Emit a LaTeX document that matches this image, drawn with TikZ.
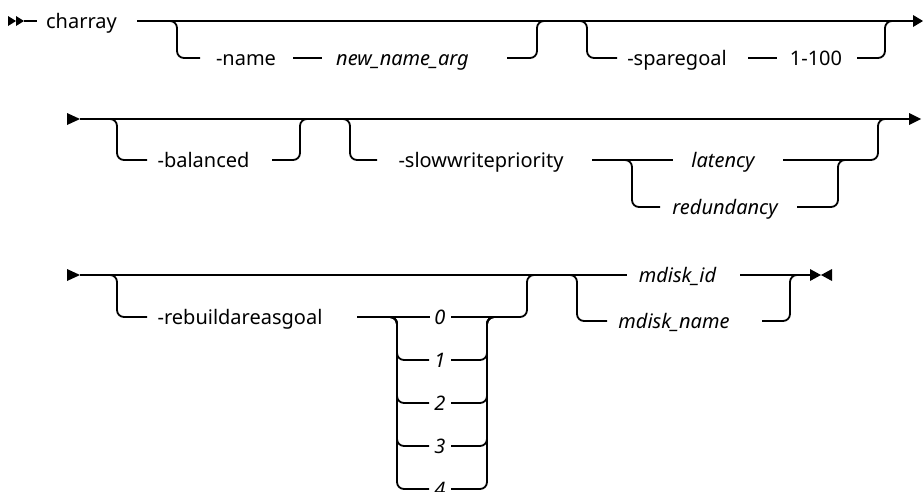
\documentclass[tikz,border=0pt]{standalone}
\usepackage{fontspec}
\setmainfont{Noto Sans}
\begin{document}
\begin{tikzpicture}[x=1pt,y=-1pt,
  rail/.style={line width=1.8pt, rounded corners=7pt},
  kw/.style={inner sep=0pt, anchor=base, font=\fontsize{20}{24}\selectfont},
  arg/.style={kw, font=\fontsize{20}{24}\selectfont\itshape},
  tiptri/.style={fill=black, draw=none}]
\useasboundingbox (0,0) rectangle (923,491);
\clip (0,0) rectangle (923,491);
% ---------- Row 1 ----------
\fill[tiptri] (8,16) -- (16,21) -- (8,26) -- cycle;
\fill[tiptri] (16,16) -- (24,21) -- (16,26) -- cycle;
\draw[rail] (24,21) -- (37,21);
\node[kw] (charray) at (81.5,28) {charray};
\draw[rail] (137,21) -- (913,21);
\fill[tiptri] (913,15) -- (923,21) -- (913,27) -- cycle;
\draw[rail] (170,21) -- (177,21) -- (177,58) -- (200,58);
\node[kw] (name) at (246,65) {-name};
\draw[rail] (293,58) -- (322,58);
\node[arg] (nna) at (402.5,65) {new\_name\_arg};
\draw[rail] (507,58) -- (537,58) -- (537,21) -- (544,21);
\draw[rail] (580,21) -- (587,21) -- (587,58) -- (617,58);
\node[kw] (spare) at (677,65) {-sparegoal};
\draw[rail] (748,58) -- (777,58);
\node[kw] (range) at (816,65) {1-100};
\draw[rail] (857,58) -- (885,58) -- (885,21) -- (892,21);
% ---------- Row 2 ----------
\fill[tiptri] (67,113) -- (80,119) -- (67,125) -- cycle;
\draw[rail] (80,119) -- (909,119);
\fill[tiptri] (909,113) -- (921,119) -- (909,125) -- cycle;
\draw[rail] (110,119) -- (117,119) -- (117,160) -- (147,160);
\node[kw] (bal) at (203.5,167) {-balanced};
\draw[rail] (272,160) -- (300,160) -- (300,119) -- (307,119);
\draw[rail] (343,119) -- (350,119) -- (350,160) -- (377,160);
\node[kw] (slow) at (481,167) {-slowwritepriority};
\draw[rail] (592,160) -- (673,160);
\node[arg] (lat) at (723,167) {latency};
\draw[rail] (625,160) -- (632,160) -- (632,207) -- (660,207);
\node[arg] (red) at (725,214) {redundancy};
\draw[rail] (783,160) -- (878,160) -- (878,119) -- (885,119);
\draw[rail] (797,207) -- (838,207) -- (838,160) -- (845,160);
% ---------- Row 3 ----------
\fill[tiptri] (67,269) -- (80,275) -- (67,281) -- cycle;
\draw[rail] (80,275) -- (627,275);
\node[arg] (mid) at (677.5,282) {mdisk\_id};
\draw[rail] (740,275) -- (810,275);
\fill[tiptri] (810,269) -- (821,275) -- (810,281) -- cycle;
\fill[tiptri] (832,269) -- (821,275) -- (832,281) -- cycle;
\draw[rail] (110,275) -- (117,275) -- (117,317) -- (147,317);
\node[kw] (reb) at (240,324) {-rebuildareasgoal};
\draw[rail] (357,317) -- (430,317);
\foreach \v/\yy in {0/317,1/360,2/403,3/446,4/489}
  \node[arg] (n\v) at (440,\yy+7) {\v};
\foreach \yy in {360,403,446,489}{
  \draw[rail] (390,317) -- (397,317) -- (397,\yy) -- (429,\yy);
  \draw[rail] (451,\yy) -- (487,\yy) -- (487,317) -- (494,317);
}
\draw[rail] (451,317) -- (527,317) -- (527,275) -- (534,275);
\draw[rail] (570,275) -- (577,275) -- (577,321) -- (607,321);
\node[arg] (mname) at (674,328) {mdisk\_name};
\draw[rail] (762,321) -- (790,321) -- (790,275) -- (797,275);
\end{tikzpicture}
\end{document}
